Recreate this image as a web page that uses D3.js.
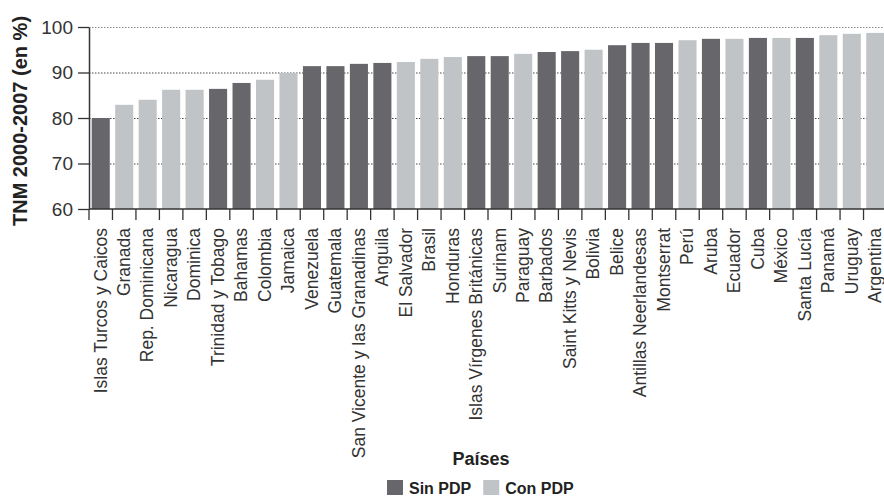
<!DOCTYPE html>
<html>
<head>
<meta charset="utf-8">
<script src="https://cdn.jsdelivr.net/npm/d3@7"></script>
<style>
  html, body { margin: 0; padding: 0; background: #fff; }
  svg { display: block; }
</style>
</head>
<body>
<svg id="chart" width="884" height="498"></svg>
<script>
const countries = ["Islas Turcos y Caicos","Granada","Rep. Dominicana","Nicaragua","Dominica","Trinidad y Tobago","Bahamas","Colombia","Jamaica","Venezuela","Guatemala","San Vicente y las Granadinas","Anguila","El Salvador","Brasil","Honduras","Islas Vírgenes Británicas","Surinam","Paraguay","Barbados","Saint Kitts y Nevis","Bolivia","Belice","Antillas Neerlandesas","Montserrat","Perú","Aruba","Ecuador","Cuba","México","Santa Lucía","Panamá","Uruguay","Argentina"];
const values = [80.0,82.9,84.0,86.2,86.2,86.4,87.7,88.4,89.9,91.4,91.4,91.9,92.1,92.3,93.0,93.4,93.6,93.6,94.1,94.5,94.7,95.0,96.0,96.5,96.5,97.1,97.4,97.4,97.6,97.6,97.6,98.2,98.5,98.7];
const groups = ["S","C","C","C","C","S","S","C","C","S","S","S","S","C","C","C","S","S","C","S","S","C","S","S","S","C","S","C","S","C","S","C","C","C"];
const seriesKeys = ["S","C"];
const seriesNames = ["Sin PDP","Con PDP"];
const seriesColors = ["#67666b","#c1c4c6"];
const yTicks = [60,70,80,90,100];
const yTitle = "TNM 2000-2007 (en %)";
const xTitle = "Países";

const data = countries.map((c,i)=>({name:c, value:values[i], group:groups[i]}));
const svg = d3.select("#chart");
const sansFont = "'Liberation Sans', Arial, sans-serif";

const x = d3.scaleBand().domain(countries).range([89, 887]).paddingInner(0.23).paddingOuter(0.115);
const y = d3.scaleLinear().domain([60, 100]).range([209, 27]);
const color = d3.scaleOrdinal().domain(seriesKeys).range(seriesColors);

// gridlines
svg.append("g").selectAll("line").data(yTicks.filter(t=>t>60)).join("line")
  .attr("x1", 89).attr("x2", 884)
  .attr("y1", d=>y(d)+0.5).attr("y2", d=>y(d)+0.5)
  .attr("stroke", d=> d===100 ? "#8a8a8a" : "#444")
  .attr("stroke-width", 1)
  .attr("stroke-dasharray", "1.5,1.5");

// bars
svg.append("g").selectAll("rect").data(data).join("rect")
  .attr("x", d=>x(d.name))
  .attr("width", x.bandwidth())
  .attr("y", d=>y(d.value))
  .attr("height", d=>y(60)-y(d.value))
  .attr("fill", d=>color(d.group));

// y axis
const yAxis = svg.append("g").attr("transform","translate(89,0)")
  .call(d3.axisLeft(y).tickValues(yTicks).tickSize(11).tickPadding(5).tickSizeOuter(0));
yAxis.select(".domain").attr("stroke","#333").attr("stroke-width",1.5);
yAxis.selectAll(".tick line").attr("stroke","#333").attr("stroke-width",1.3);
yAxis.selectAll("text").attr("font-family", sansFont).attr("font-size", 19).attr("fill","#333");

// x axis line and boundary ticks
const step = x.step();
svg.append("line").attr("x1",89).attr("x2",884).attr("y1",209).attr("y2",209)
  .attr("stroke","#333").attr("stroke-width",1.5);
svg.append("g").selectAll("line").data(countries).join("line")
  .attr("x1", d=> x(d) - x.paddingInner()*step/2).attr("x2", d=> x(d) - x.paddingInner()*step/2)
  .attr("y1", 209).attr("y2", 220)
  .attr("stroke","#333").attr("stroke-width",1.3);

// category labels
svg.append("g").selectAll("text").data(countries).join("text")
  .attr("transform", d=>`translate(${x(d)+x.bandwidth()/2},228) rotate(-90)`)
  .attr("text-anchor","end")
  .attr("dy","0.33em")
  .attr("font-family", sansFont)
  .attr("font-size", 17.5)
  .attr("fill","#333")
  .text(d=>d);

// y title
svg.append("text")
  .attr("transform","translate(20,121) rotate(-90)")
  .attr("text-anchor","middle")
  .attr("dy","0.35em")
  .attr("font-family", sansFont)
  .attr("font-weight","bold")
  .attr("font-size", 20)
  .attr("fill","#222")
  .text(yTitle);

// x title
svg.append("text")
  .attr("x", 481).attr("y", 465)
  .attr("text-anchor","middle")
  .attr("font-family", sansFont)
  .attr("font-weight","bold")
  .attr("font-size", 18)
  .attr("fill","#222")
  .text(xTitle);

// legend
const lg = svg.append("g").attr("transform","translate(387,480)");
let lx = 0;
seriesKeys.forEach((k,i)=>{
  const g = lg.append("g").attr("transform",`translate(${lx},0)`);
  g.append("rect").attr("width",16).attr("height",15).attr("fill",color(k));
  const t = g.append("text").attr("x",22).attr("y",13.5)
    .attr("font-family", sansFont).attr("font-weight","bold").attr("font-size",16)
    .attr("fill","#222")
    .text(seriesNames[i]);
  lx += 22 + t.node().getComputedTextLength() + 12;
});
</script>
</body>
</html>
